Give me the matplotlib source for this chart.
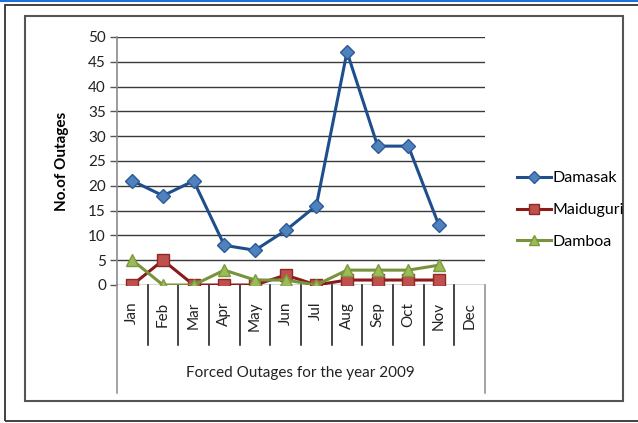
import matplotlib
matplotlib.use("Agg")
import matplotlib.pyplot as plt
import numpy as np
from matplotlib.patches import Rectangle
from matplotlib.lines import Line2D

months = ["Jan", "Feb", "Mar", "Apr", "May", "Jun",
          "Jul", "Aug", "Sep", "Oct", "Nov", "Dec"]
damasak = [21, 18, 21, 8, 7, 11, 16, 47, 28, 28, 12]
maiduguri = [0, 5, 0, 0, 0, 2, 0, 1, 1, 1, 1]
damboa = [5, 0, 0, 3, 1, 1, 0, 3, 3, 3, 4]
yticks = list(range(0, 55, 5))

W, H = 638, 423
plt.rcParams["font.family"] = ["Lato", "DejaVu Sans"]

fig = plt.figure(figsize=(W / 100, H / 100), dpi=100)
fig.patch.set_facecolor("white")


def px(x0, y0, x1, y1):
    # pixel box (top-left origin) -> figure fraction [l, b, w, h]
    return [x0 / W, 1 - y1 / H, (x1 - x0) / W, (y1 - y0) / H]


ax = fig.add_axes(px(117, 37, 485, 285))
x = np.arange(len(damasak))

ax.plot(x, damasak, color="#1F4E8C", lw=2.2, marker="D", ms=7,
        mfc="#4F81BD", mec="#2C5A96", mew=1, label="Damasak", zorder=3)
ax.plot(x, maiduguri, color="#8B1A1A", lw=2.2, marker="s", ms=9,
        mfc="#C0504D", mec="#8C2A28", mew=1, label="Maiduguri", zorder=4)
ax.plot(x, damboa, color="#77933C", lw=2.2, marker="^", ms=9,
        mfc="#9BBB59", mec="#7A9A3C", mew=1, label="Damboa", zorder=5)

ax.set_xlim(-0.5, len(months) - 0.5)
ax.set_ylim(0, 50)
ax.set_yticks(yticks)
ax.yaxis.grid(True, color="#3a3a3a", lw=1)
ax.set_axisbelow(True)
for s in ["top", "right", "bottom"]:
    ax.spines[s].set_visible(False)
ax.spines["left"].set_color("#8a8a8a")
ax.spines["left"].set_linewidth(1.2)
ax.tick_params(axis="y", direction="out", length=5, width=1,
               color="#555555", labelsize=11, pad=3, labelcolor="#222222")

ax.set_xticks(np.arange(len(months)))
ax.set_xticklabels(months, rotation=90, fontsize=11, color="#222222")
ax.tick_params(axis="x", length=0, pad=12)

# category divider lines below the axis
for k in range(len(months) + 1):
    bottom = -0.435 if k in (0, len(months)) else -0.242
    col = "#8a8a8a" if k in (0, len(months)) else "#111111"
    ax.plot([k - 0.5, k - 0.5], [0, bottom], color=col, lw=1.1,
            transform=ax.get_xaxis_transform(), clip_on=False)

ax.set_ylabel("No.of Outages", fontsize=11, fontweight="bold", labelpad=14)

fig.text(300 / W, 1 - 373 / H, "Forced Outages for the year 2009",
         ha="center", va="center", fontsize=11, color="#222222")

leg = fig.legend(loc="center left", bbox_to_anchor=(511 / W, 1 - 210 / H),
                 frameon=False, fontsize=11.5, handlelength=2.1,
                 handletextpad=0.1, labelspacing=1.1, borderaxespad=0,
                 markerscale=0.85)

# frames
fig.add_artist(Line2D([0, 1], [1 - 0.8 / H, 1 - 0.8 / H], color="#1F6FE0",
                      lw=1.5, transform=fig.transFigure))
fig.add_artist(Rectangle((5 / W, 1 - 421 / H), 640 / W, 416 / H,
                         fill=False, ec="#333333", lw=1.3,
                         transform=fig.transFigure))
fig.add_artist(Rectangle((25 / W, 1 - 401 / H), 598 / W, 385 / H,
                         fill=False, ec="#555555", lw=1.5,
                         transform=fig.transFigure))

fig.savefig("out.png", dpi=100, facecolor=fig.get_facecolor())
